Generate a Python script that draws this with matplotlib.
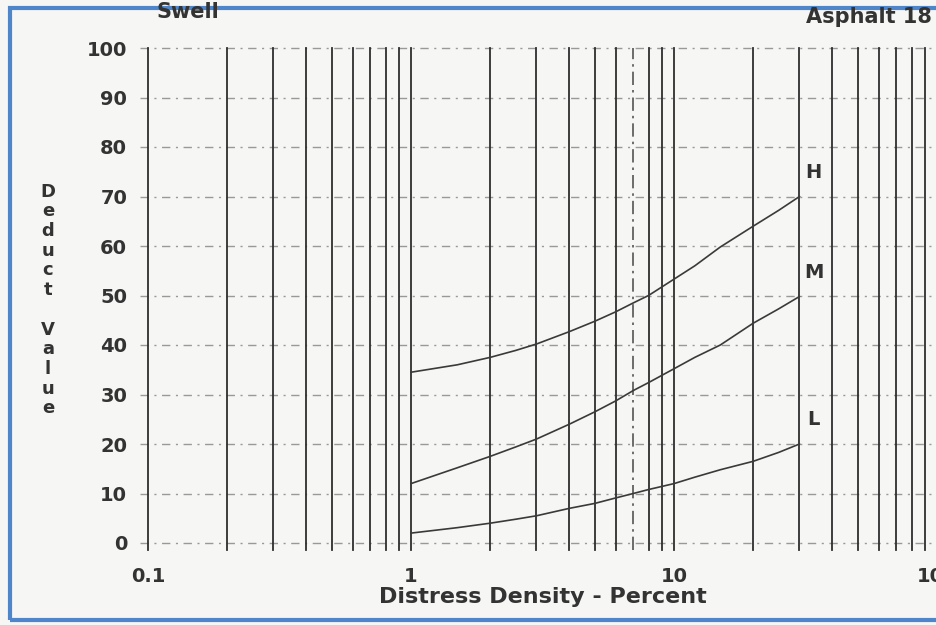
import numpy as np
import matplotlib.pyplot as plt
from matplotlib.patches import Rectangle

plt.rcParams['font.family'] = ['DejaVu Sans']

# deduct value curves (density in %, deduct value)
density = [1, 1.5, 2, 2.5, 3, 4, 5, 6, 7, 8, 10, 12, 15, 20, 25, 30]
high = [34.5, 36.0, 37.5, 38.9, 40.2, 42.7, 44.8, 46.7, 48.5, 50.0, 53.3,
        56.0, 59.8, 64.0, 67.2, 70.0]
medium = [12.0, 15.2, 17.5, 19.4, 21.0, 24.0, 26.5, 28.7, 30.8, 32.4, 35.2,
          37.5, 40.0, 44.4, 47.3, 49.8]
low = [2.0, 3.1, 4.0, 4.8, 5.5, 7.0, 8.0, 9.1, 10.0, 10.8, 12.0, 13.3,
       14.8, 16.5, 18.3, 20.0]

curve_labels = ['H', 'M', 'L']
yticks = list(range(0, 101, 10))
xticks = [0.1, 1, 10, 100]
xtick_labels = ['0.1', '1', '10', '100']
# vertical log grid (7 is drawn dash-dot in the original)
vlines = [m * 10.0 ** e for e in (-1, 0, 1) for m in range(1, 10)] + [100]

fig = plt.figure(figsize=(9.37, 6.25), dpi=100)
fig.patch.set_facecolor('#f6f6f4')
ax = fig.add_axes([148 / 937, 82 / 625, 789 / 937, 495 / 625])
ax.set_facecolor('none')
ax.set_xscale('log')
ax.set_xlim(0.1, 100)
ax.set_ylim(0, 100)
for s in ax.spines.values():
    s.set_visible(False)

for y in yticks:
    ax.plot([0.093, 100], [y, y], color='#999999', lw=1.0,
            ls=(0, (6, 4, 1.5, 4)), clip_on=False, zorder=1)
for v in vlines:
    if abs(v - 7) < 1e-9:
        ax.plot([v, v], [-1.5, 100], color='#555555', lw=1.2,
                ls=(0, (8, 3, 1.5, 3)), clip_on=False, zorder=2)
    else:
        ax.plot([v, v], [-1.5, 100], color='#2e2e2e', lw=1.3,
                clip_on=False, zorder=2)

for vals, lab in zip([high, medium, low], curve_labels):
    ax.plot(density, vals, color='#3a3a3a', lw=1.2, zorder=3)
    ax.text(34, vals[-1] + 3.0, lab, fontsize=14, fontweight='bold',
            color='#333333', ha='center', va='bottom')

ax.set_xticks(xticks)
ax.set_xticklabels(xtick_labels)
ax.xaxis.set_minor_locator(plt.NullLocator())
ax.set_yticks(yticks)
ax.tick_params(length=0, labelsize=14, colors='#333333')
ax.tick_params(axis='y', pad=15)
ax.tick_params(axis='x', pad=17)
for t in ax.get_xticklabels() + ax.get_yticklabels():
    t.set_fontweight('bold')

ax.set_xlabel('Distress Density - Percent', fontsize=16, fontweight='bold',
              color='#333333', labelpad=1)
fig.text(48 / 937, 1 - 300 / 625, 'D\ne\nd\nu\nc\nt\n\nV\na\nl\nu\ne',
         fontsize=13, fontweight='bold', color='#333333', ha='center',
         va='center', linespacing=1.12)

fig.text(188 / 937, 1 - 12 / 625, 'Swell', fontsize=15, fontweight='bold',
         color='#333333', ha='center', va='center')
fig.text(932 / 937, 1 - 17 / 625, 'Asphalt 18', fontsize=15, fontweight='bold',
         color='#333333', ha='right', va='center')

fig.patches.append(Rectangle((10 / 937, 5 / 625), 1.0, 612 / 625,
                             transform=fig.transFigure, fill=False,
                             edgecolor='#4f86c9', lw=3))

fig.savefig('out.png', dpi=100, facecolor=fig.get_facecolor())
